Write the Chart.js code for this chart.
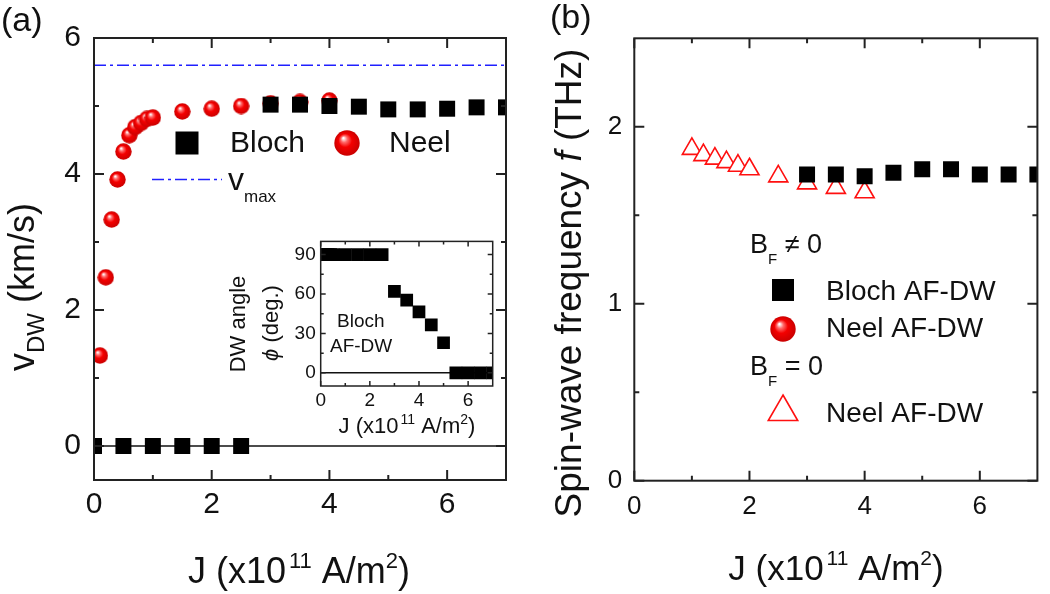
<!DOCTYPE html>
<html>
<head>
<meta charset="utf-8">
<script src="https://cdn.jsdelivr.net/npm/chart.js@4.4.1/dist/chart.umd.min.js"></script>
<style>
  body { margin: 0; background: #fff; width: 1050px; height: 594px; overflow: hidden; position: relative; }
  canvas { position: absolute; }
</style>
</head>
<body>
<canvas id="left" width="520" height="594" style="left:0;top:0"></canvas>
<canvas id="inset" width="290" height="225" style="left:220px;top:225px"></canvas>
<canvas id="right" width="530" height="594" style="left:520px;top:0"></canvas>
<script>
// ---- data ----
// (a) domain wall velocity
const blochJ = [0, 0.5, 1, 1.5, 2, 2.5, 3, 3.5, 4, 4.5, 5, 5.5, 6, 6.5, 7];
const blochV = [0, 0, 0, 0, 0, 0, 5.02, 5.02, 5.0, 4.99, 4.95, 4.95, 4.96, 4.98, 4.98];
const neelJ = [0.1, 0.2, 0.3, 0.4, 0.5, 0.6, 0.7, 0.8, 0.9, 1.0, 1.5, 2, 2.5, 3, 3.5, 4];
const neelV = [1.33, 2.48, 3.33, 3.92, 4.33, 4.57, 4.69, 4.75, 4.81, 4.83, 4.92, 4.96, 5.0, 5.04, 5.06, 5.08];
const vmax = 5.6;
const jRange = [0, 7];

// inset: Bloch DW angle
const angleJ = [0, 0.1, 0.2, 0.3, 0.4, 0.5, 1.0, 1.5, 2.0, 2.5, 3.0, 3.5, 4.0, 4.5, 5.0, 5.5, 6.0, 6.5, 7.0];
const anglePhi = [90, 90, 90, 90, 90, 90, 90, 90, 90, 90, 62, 55.4, 46.4, 36.5, 22.9, 0, 0, 0, 0];

// (b) spin-wave frequency
const freqBlochJ = [3, 3.5, 4, 4.5, 5, 5.5, 6, 6.5, 7];
const freqBlochF = [1.73, 1.73, 1.72, 1.74, 1.76, 1.76, 1.73, 1.73, 1.73];
const freqNeel0J = [1.0, 1.2, 1.4, 1.6, 1.8, 2.0, 2.5, 3.0, 3.5, 4.0];
const freqNeel0F = [1.875, 1.84, 1.82, 1.80, 1.78, 1.76, 1.72, 1.68, 1.655, 1.63];

// tick values
const jMajor = [0, 2, 4, 6], jMinor = [1, 3, 5];
const vMajor = [0, 2, 4, 6], vMinor = [1, 3, 5];
const phiMajor = [0, 30, 60, 90], phiMinor = [15, 45, 75];
const fMajor = [0, 1, 2], fMinor = [0.5, 1.5];

const FONT = '"Liberation Sans", Arial, sans-serif';
const pts = (xs, ys) => xs.map((x, i) => ({ x: x, y: ys[i] }));

function makeSphere(d) {
  const c = document.createElement('canvas');
  c.width = d; c.height = d;
  const g = c.getContext('2d');
  const r = d / 2;
  const grad = g.createRadialGradient(r * 0.72, r * 0.62, r * 0.04, r, r, r);
  grad.addColorStop(0, '#ffffff');
  grad.addColorStop(0.22, '#ff6a6a');
  grad.addColorStop(0.5, '#f40000');
  grad.addColorStop(1, '#c80000');
  g.fillStyle = grad;
  g.beginPath();
  g.arc(r, r, r - 0.3, 0, Math.PI * 2);
  g.fill();
  return c;
}
const sphereData = makeSphere(17);
const sphereLegend = makeSphere(26);

// draws text made of normal / sub / sup pieces
function drawRich(ctx, t) {
  ctx.save();
  ctx.translate(t.x, t.y);
  if (t.rot) ctx.rotate(t.rot);
  const parts = t.segs.map(s => {
    const sz = s.size || ((s.sub || s.sup) ? t.size * 0.6 : t.size);
    const font = (s.it ? 'italic ' : '') + sz + 'px ' + FONT;
    ctx.font = font;
    let dy = 0;
    if (s.sub) dy = t.size * 0.32;
    if (s.sup) dy = -t.size * 0.42;
    if (s.dy !== undefined) dy = s.dy;
    return { text: s.t, font: font, w: ctx.measureText(s.t).width + (s.gap || 0), dy: dy, gap: s.gap || 0 };
  });
  const total = parts.reduce((a, p) => a + p.w, 0);
  let x = t.align === 'center' ? -total / 2 : (t.align === 'right' ? -total : 0);
  ctx.fillStyle = '#111';
  ctx.textBaseline = 'alphabetic';
  ctx.textAlign = 'left';
  parts.forEach(p => {
    ctx.font = p.font;
    ctx.fillText(p.text, x + p.gap, p.dy);
    x += p.w;
  });
  ctx.restore();
}

// frame, inward ticks on all four sides, legend marks and labels
function decor(spec) {
  return {
    id: 'decor',
    afterDraw(chart) {
      const ctx = chart.ctx, a = chart.chartArea;
      const sx = chart.scales.x, sy = chart.scales.y;
      ctx.save();
      ctx.strokeStyle = '#222';
      ctx.lineWidth = spec.lw;
      ctx.strokeRect(a.left, a.top, a.right - a.left, a.bottom - a.top);
      const xt = (vals, len) => vals.forEach(v => {
        const p = sx.getPixelForValue(v);
        ctx.beginPath();
        ctx.moveTo(p, a.bottom); ctx.lineTo(p, a.bottom - len);
        ctx.moveTo(p, a.top); ctx.lineTo(p, a.top + len);
        ctx.stroke();
      });
      const yt = (vals, len) => vals.forEach(v => {
        const p = sy.getPixelForValue(v);
        ctx.beginPath();
        ctx.moveTo(a.left, p); ctx.lineTo(a.left + len, p);
        ctx.moveTo(a.right, p); ctx.lineTo(a.right - len, p);
        ctx.stroke();
      });
      xt(spec.xMajor, spec.maj); xt(spec.xMinor, spec.min);
      yt(spec.yMajor, spec.maj); yt(spec.yMinor, spec.min);

      (spec.marks || []).forEach(m => {
        if (m.kind === 'rect') {
          ctx.fillStyle = '#000';
          ctx.fillRect(m.x - m.s / 2, m.y - m.s / 2, m.s, m.s);
        } else if (m.kind === 'sphere') {
          ctx.drawImage(sphereLegend, m.x - sphereLegend.width / 2, m.y - sphereLegend.height / 2);
        } else if (m.kind === 'tri') {
          ctx.fillStyle = '#fff'; ctx.strokeStyle = '#ff1010'; ctx.lineWidth = 1.6;
          const h = m.r, k = Math.sin(Math.PI * 2 / 3);
          ctx.beginPath();
          ctx.moveTo(m.x, m.y - h);
          ctx.lineTo(m.x + h * k, m.y + h / 2);
          ctx.lineTo(m.x - h * k, m.y + h / 2);
          ctx.closePath();
          ctx.fill(); ctx.stroke();
        } else if (m.kind === 'dash') {
          ctx.strokeStyle = '#2020ff'; ctx.lineWidth = 1.5;
          ctx.setLineDash([12, 4, 3, 4]);
          ctx.beginPath(); ctx.moveTo(m.x1, m.y); ctx.lineTo(m.x2, m.y); ctx.stroke();
          ctx.setLineDash([]);
        }
      });
      (spec.texts || []).forEach(t => drawRich(ctx, t));
      ctx.restore();
    }
  };
}

function axis(min, max, majors, size, pad, fit, isX) {
  return {
    type: 'linear', min: min, max: max,
    grid: { display: false, drawTicks: false },
    border: { display: false },
    ticks: { font: { size: size, family: FONT }, color: '#111', padding: pad, maxRotation: 0, autoSkip: false,
             callback: v => String(v) },
    afterBuildTicks: s => { s.ticks = majors.map(v => ({ value: v })); },
    afterFit: s => { if (isX) s.height = fit; else s.width = fit; }
  };
}

const common = {
  responsive: false, animation: false, devicePixelRatio: 1,
  plugins: { legend: { display: false }, tooltip: { enabled: false } },
  elements: { line: { tension: 0 } }
};

const jTitle = (size, supSize, gap) => [
  { t: 'J (x10' }, { t: '11', sup: true, size: supSize, gap: gap }, { t: ' A/m' }, { t: '2', sup: true, size: supSize }, { t: ')' }
];

// ---------- (a) ----------
new Chart(document.getElementById('left'), {
  type: 'scatter',
  data: {
    datasets: [
      { label: 'Bloch', data: pts(blochJ, blochV), pointStyle: 'rect', pointRadius: 11.3, backgroundColor: '#000',
        borderColor: '#000', borderWidth: 0, clip: 0, order: 0 },
      { label: 'Neel', data: pts(neelJ, neelV), pointStyle: sphereData, pointRadius: 8, clip: 0, order: 1 },
      { label: 'vmax', data: pts(jRange, [vmax, vmax]), showLine: true, borderColor: '#2020ff', borderWidth: 1.5,
        borderDash: [12, 4, 3, 4], pointRadius: 0, order: 2 },
      { label: 'zero', data: pts(jRange, [0, 0]), showLine: true, borderColor: '#111', borderWidth: 1.5, pointRadius: 0, order: 3 }
    ]
  },
  options: Object.assign({}, common, {
    layout: { padding: { top: 38, right: 14, left: 0, bottom: 0 } },
    scales: {
      x: axis(0, 7, jMajor, 30, 7, 114, true),
      y: axis(-0.5, 6, vMajor, 30, 13, 94, false)
    }
  }),
  plugins: [decor({
    lw: 2, maj: 10, min: 5,
    xMajor: jMajor, xMinor: jMinor, yMajor: vMajor, yMinor: vMinor,
    marks: [
      { kind: 'rect', x: 187, y: 143, s: 23 },
      { kind: 'sphere', x: 347, y: 143 },
      { kind: 'dash', x1: 152, x2: 222, y: 179.5 }
    ],
    texts: [
      { x: 1, y: 31, size: 34, segs: [{ t: '(a)' }] },
      { x: 230, y: 152, size: 30, segs: [{ t: 'Bloch' }] },
      { x: 389, y: 152, size: 30, segs: [{ t: 'Neel' }] },
      { x: 228, y: 190, size: 32, segs: [{ t: 'v' }, { t: 'max', size: 17, dy: 11.5 }] },
      { x: 34, y: 287, size: 36, rot: -Math.PI / 2, align: 'center',
        segs: [{ t: 'v' }, { t: 'DW', sub: true, size: 24, dy: 10 }, { t: ' (km/s)' }] },
      { x: 299, y: 583, size: 36, align: 'center', segs: jTitle(36, 22, 3) }
    ]
  })]
});

// ---------- inset ----------
new Chart(document.getElementById('inset'), {
  type: 'scatter',
  data: {
    datasets: [
      { label: 'angle', data: pts(angleJ, anglePhi), pointStyle: 'rect', pointRadius: 9, backgroundColor: '#000',
        borderColor: '#000', borderWidth: 0, clip: 0, order: 0 },
      { label: 'zero', data: pts(jRange, [0, 0]), showLine: true, borderColor: '#111', borderWidth: 1.5, pointRadius: 0, order: 1 }
    ]
  },
  options: Object.assign({}, common, {
    layout: { padding: { top: 7.3, right: 17.3, left: 0, bottom: 0 } },
    scales: {
      x: axis(0, 7, jMajor, 19, 3, 64, true),
      y: axis(-10, 100, phiMajor, 19, 5, 100.7, false)
    }
  }),
  plugins: [decor({
    lw: 1.5, maj: 5, min: 3,
    xMajor: jMajor, xMinor: jMinor, yMajor: phiMajor, yMinor: phiMinor,
    texts: [
      { x: 25, y: 99, size: 22, rot: -Math.PI / 2, align: 'center', segs: [{ t: 'DW angle' }] },
      { x: 58, y: 98, size: 22, rot: -Math.PI / 2, align: 'center', segs: [{ t: 'ϕ', it: true }, { t: ' (deg.)' }] },
      { x: 117, y: 102, size: 19, segs: [{ t: 'Bloch' }] },
      { x: 110, y: 127, size: 19, segs: [{ t: 'AF-DW' }] },
      { x: 187, y: 208, size: 22, align: 'center', segs: jTitle(22, 14, 2) }
    ]
  })]
});

// ---------- (b) ----------
new Chart(document.getElementById('right'), {
  type: 'scatter',
  data: {
    datasets: [
      { label: 'Bloch AF-DW', data: pts(freqBlochJ, freqBlochF), pointStyle: 'rect', pointRadius: 11.3,
        backgroundColor: '#000', borderColor: '#000', borderWidth: 0, clip: 0, order: 0 },
      { label: 'Neel AF-DW (BF = 0)', data: pts(freqNeel0J, freqNeel0F), pointStyle: 'triangle', pointRadius: 11,
        backgroundColor: '#fff', borderColor: '#ff1010', borderWidth: 1.6, clip: 0, order: 1 }
    ]
  },
  options: Object.assign({}, common, {
    layout: { padding: { top: 38.3, right: 9.3, left: 0, bottom: 0 } },
    scales: {
      x: axis(0, 7, jMajor, 26, 11, 113.3, true),
      y: axis(0, 2.5, fMajor, 26, 12, 114.3, false)
    }
  }),
  plugins: [decor({
    lw: 2, maj: 10, min: 5,
    xMajor: jMajor, xMinor: jMinor, yMajor: fMajor, yMinor: fMinor,
    marks: [
      { kind: 'rect', x: 263, y: 290, s: 22 },
      { kind: 'sphere', x: 263, y: 329 },
      { kind: 'tri', x: 263, y: 412, r: 17 }
    ],
    texts: [
      { x: 30, y: 28, size: 34, segs: [{ t: '(b)' }] },
      { x: 230, y: 253, size: 27, segs: [{ t: 'B' }, { t: 'F', size: 15, dy: 11 }, { t: ' ≠ 0' }] },
      { x: 306, y: 300, size: 28, segs: [{ t: 'Bloch AF-DW' }] },
      { x: 306, y: 337, size: 28, segs: [{ t: 'Neel AF-DW' }] },
      { x: 230, y: 375, size: 27, segs: [{ t: 'B' }, { t: 'F', size: 15, dy: 11 }, { t: ' = 0' }] },
      { x: 306, y: 422, size: 28, segs: [{ t: 'Neel AF-DW' }] },
      { x: 61, y: 283, size: 37, rot: -Math.PI / 2, align: 'center',
        segs: [{ t: 'Spin-wave frequency ' }, { t: 'f', it: true }, { t: ' (THz)' }] },
      { x: 316, y: 580, size: 35, align: 'center', segs: jTitle(35, 21, 3) }
    ]
  })]
});
</script>
</body>
</html>
